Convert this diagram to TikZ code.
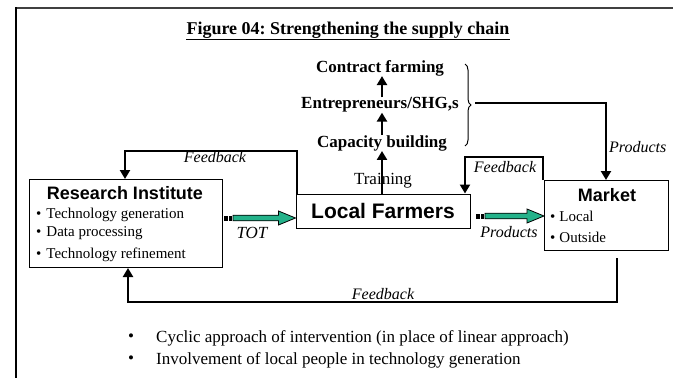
\documentclass[tikz,border=0pt]{standalone}
\usepackage{fontspec}
\setmainfont{Liberation Serif}
\setsansfont{Liberation Sans}
\usetikzlibrary{arrows.meta,calc,decorations.pathreplacing}
\definecolor{tgreen}{RGB}{36,178,138}
\newcommand{\greenarr}[2]{%
  \fill ($(#1)+(-9,-2.5)$) rectangle ($(#1)+(-5.5,2.5)$);
  \fill ($(#1)+(-4,-2.5)$) rectangle ($(#1)+(-1.5,2.5)$);
  \draw[garrowst] ($(#1)+(0,-2.8)$) -- ($(#2)+(-17,-2.8)$) -- ($(#2)+(-17,-7)$) -- (#2)
     -- ($(#2)+(-17,7)$) -- ($(#2)+(-17,2.8)$) -- ($(#1)+(0,2.8)$) -- cycle;}
\frenchspacing
\begin{document}
\begin{tikzpicture}[x=1pt,y=-1pt,
  box/.style={draw, line width=1pt, inner sep=0pt, anchor=north west},
  lbl/.style={inner sep=0pt},
  fb/.style={lbl, font=\fontsize{16}{16}\selectfont\itshape},
  conn/.style={line width=2.8pt, -{Triangle[length=9pt,width=10pt]}},
  stk/.style={lbl, font=\fontsize{17}{17}\selectfont\bfseries},
  hd/.style={lbl, font=\fontsize{18}{18}\selectfont\sffamily\bfseries},
  itm/.style={lbl, anchor=west, font=\fontsize{15}{15}\selectfont},
  btm/.style={lbl, anchor=west, font=\fontsize{17}{17}\selectfont},
  garrowst/.style={draw=black, line width=0.8pt, fill=tgreen, line join=miter},
]
\useasboundingbox (0,0) rectangle (673,378);
% frame
\draw[line width=2pt, black!75] (15,8) -- (673,8);
\draw[line width=2pt] (16,7) -- (16,378);
% title
\node[lbl, font=\fontsize{18}{18}\selectfont\bfseries] (title) at (348,30)
  {Figure 04: Strengthening the supply chain};
\coordinate (ul) at (0,39.5);
\draw[line width=1.8pt] (title.west |- ul) -- (title.east |- ul);
% stack
\node[stk] (cf) at (380,68) {Contract farming};
\node[stk] (en) at (380,105) {Entrepreneurs/SHG,s};
\node[stk] (cb) at (382,143) {Capacity building};
\coordinate (ax) at (382,0);
\draw[conn] (en.north -| ax) -- (cf.south -| ax);
\draw[conn] (cb.north -| ax) -- (en.south -| ax);
% brace
\draw[line width=1pt, decorate, decoration={brace, amplitude=6pt}] (465,64) -- (465,146);
\coordinate (bt) at (475,103);
% boxes
\node[box, minimum width=193, minimum height=88] (ri) at (29,179) {};
\node[draw, line width=1pt, minimum width=174, minimum height=34, inner sep=0pt,
  font=\fontsize{21}{21}\selectfont\sffamily\bfseries] (lf) at (383,211) {Local Farmers};
\node[box, minimum width=124, minimum height=70] (mk) at (544,180) {};
% research contents
\node[hd] (rit) at (125,193) {Research Institute};
\node[itm] (ri1) at (36,215) {\textbullet\hspace{5pt}Technology generation};
\node[itm] (ri2) at (36,233) {\textbullet\hspace{5pt}Data processing};
\node[itm] (ri3) at (36,255) {\textbullet\hspace{5pt}Technology refinement};
% market contents
\node[hd] (mkt) at (607,195) {Market};
\node[itm] (mk1) at (550,216) {\textbullet\hspace{4pt}Local};
\node[itm] (mk2) at (550,237) {\textbullet\hspace{4pt}Outside};
% training
\node[lbl, font=\fontsize{17}{17}\selectfont] (tr) at (383,181) {Training};
\draw[conn] (lf.north -| ax) -- (cb.south -| ax);
% products from brace to market
\draw[conn] (bt) -| (mk.north -| 606,0);
\node[fb, anchor=west] (pl1) at (609,147) {Products};
% feedback loops
\coordinate (fb1) at (125,151);
\draw[conn] ([xshift=1.5pt]lf.north west) |- (fb1) -- (ri.north -| fb1);
\node[fb] (fl1) at (215,157) {Feedback};
\coordinate (fb2) at (465,157);
\draw[conn] ([xshift=-1pt]mk.north west) |- (fb2) -- (lf.north -| fb2);
\node[fb] (fl2) at (505,167) {Feedback};
\coordinate (fb3s) at (617,258);
\coordinate (fb3) at (128,302);
\draw[conn] (fb3s) |- (fb3) -- (ri.south -| fb3);
\node[fb] (fl3) at (383,294) {Feedback};
% green arrows
\coordinate (tA) at (233,218);
\coordinate (tB) at (lf.west |- tA);
\greenarr{tA}{tB}
\node[lbl, font=\fontsize{17}{17}\selectfont\itshape] (tot) at (252,233) {TOT};
\coordinate (pA) at (485,216);
\coordinate (pB) at (mk.west |- pA);
\greenarr{pA}{pB}
\node[fb] (pl2) at (509,232) {Products};
% bottom bullets
\node[lbl, font=\fontsize{17}{17}\selectfont] (bb1) at (131,338) {\textbullet};
\node[btm] (b1) at (156,338) {Cyclic approach of intervention (in place of linear approach)};
\node[lbl, font=\fontsize{17}{17}\selectfont] (bb2) at (131,360) {\textbullet};
\node[btm] (b2) at (156,360) {Involvement of local people in technology generation};
\end{tikzpicture}
\end{document}
